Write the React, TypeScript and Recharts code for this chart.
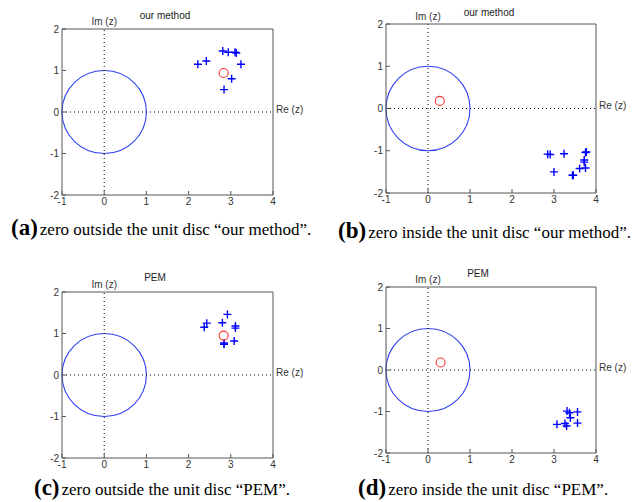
import React from 'react';
import {
  ScatterChart,
  Scatter,
  XAxis,
  YAxis,
  ReferenceLine,
  ReferenceArea,
} from 'recharts';

// pole / zero estimates
const polesA = [
  { x: 2.22, y: 1.15 }, { x: 2.42, y: 1.23 }, { x: 2.81, y: 1.47 },
  { x: 2.94, y: 1.44 }, { x: 3.1, y: 1.44 }, { x: 3.13, y: 1.42 },
  { x: 3.24, y: 1.15 }, { x: 3.02, y: 0.8 }, { x: 2.84, y: 0.54 },
];
const zeroA = [{ x: 2.83, y: 0.94 }];

const polesB = [
  { x: 2.85, y: -1.08 }, { x: 2.91, y: -1.09 }, { x: 3.24, y: -1.07 },
  { x: 3.75, y: -1.04 }, { x: 3.77, y: -1.03 }, { x: 3.72, y: -1.22 },
  { x: 3.72, y: -1.27 }, { x: 3.61, y: -1.42 }, { x: 3.75, y: -1.41 },
  { x: 3.0, y: -1.5 }, { x: 3.44, y: -1.58 }, { x: 3.46, y: -1.58 },
];
const zeroB = [{ x: 0.28, y: 0.18 }];

const polesC = [
  { x: 2.37, y: 1.15 }, { x: 2.43, y: 1.25 }, { x: 2.8, y: 1.26 },
  { x: 2.92, y: 1.46 }, { x: 3.11, y: 1.13 }, { x: 3.11, y: 1.18 },
  { x: 2.84, y: 0.77 }, { x: 2.84, y: 0.74 }, { x: 3.08, y: 0.82 },
];
const zeroC = [{ x: 2.83, y: 0.95 }];

const polesD = [
  { x: 3.31, y: -0.99 }, { x: 3.37, y: -1.03 }, { x: 3.56, y: -1.01 },
  { x: 3.39, y: -1.15 }, { x: 3.07, y: -1.31 }, { x: 3.26, y: -1.29 },
  { x: 3.3, y: -1.35 }, { x: 3.56, y: -1.28 },
];
const zeroD = [{ x: 0.3, y: 0.18 }];

const xTicks = [-1, 0, 1, 2, 3, 4];
const yTicks = [-2, -1, 0, 1, 2];

const AXIS_FONT = { fontSize: 10, fill: '#333', fontFamily: 'Liberation Sans, Arial, sans-serif' };
const BOX = '#555';

const Cross = (props: any) => {
  const { cx, cy } = props;
  if (cx == null || cy == null) return null;
  const s = 4;
  return (
    <path
      d={`M${cx - s},${cy}H${cx + s}M${cx},${cy - s}V${cy + s}`}
      stroke="#0000ff"
      strokeWidth={1.4}
      fill="none"
    />
  );
};

const Ring = (props: any) => {
  const { cx, cy } = props;
  if (cx == null || cy == null) return null;
  return <circle cx={cx} cy={cy} r={4.5} stroke="#ff3030" strokeWidth={1.1} fill="none" />;
};

const Nothing = () => <g />;

const UnitCircle = (props: any) => {
  const { x, y, width, height } = props;
  return (
    <ellipse
      cx={x + width / 2}
      cy={y + height / 2}
      rx={width / 2}
      ry={height / 2}
      stroke="#3040f0"
      strokeWidth={1.1}
      fill="none"
    />
  );
};

interface PanelProps {
  box: { x0: number; y0: number; x1: number; y1: number };
  poles: { x: number; y: number }[];
  zero: { x: number; y: number }[];
}

const ML = 45;
const MR = 45;
const MT = 28;
const MB = 25;

const Panel: React.FC<PanelProps> = ({ box, poles, zero }) => {
  const w = box.x1 - box.x0 + ML + MR;
  const h = box.y1 - box.y0 + MT + MB;
  return (
    <div style={{ position: 'absolute', left: box.x0 - ML, top: box.y0 - MT }}>
      <ScatterChart width={w} height={h} margin={{ top: MT - 1, right: MR - 1, bottom: 5, left: 5 }}>
        <XAxis
          type="number"
          dataKey="x"
          xAxisId="b"
          domain={[-1, 4]}
          ticks={xTicks}
          tick={AXIS_FONT}
          tickSize={-4}
          tickMargin={7}
          height={20}
          stroke={BOX}
          allowDataOverflow
        />
        <XAxis
          type="number"
          dataKey="x"
          xAxisId="t"
          orientation="top"
          domain={[-1, 4]}
          ticks={xTicks}
          tick={false}
          tickSize={-4}
          height={1}
          stroke={BOX}
          allowDataOverflow
        />
        <YAxis
          type="number"
          dataKey="y"
          yAxisId="l"
          domain={[-2, 2]}
          ticks={yTicks}
          tick={AXIS_FONT}
          tickSize={-4}
          tickMargin={7}
          width={40}
          stroke={BOX}
          allowDataOverflow
        />
        <YAxis
          type="number"
          dataKey="y"
          yAxisId="r"
          orientation="right"
          domain={[-2, 2]}
          ticks={yTicks}
          tick={false}
          tickSize={-4}
          width={1}
          stroke={BOX}
          allowDataOverflow
        />
        <ReferenceLine
          xAxisId="b"
          yAxisId="l"
          x={0}
          stroke="#000"
          strokeDasharray="1 3"
          label={{ value: 'Im (z)', position: 'top', offset: 4, ...AXIS_FONT }}
        />
        <ReferenceLine
          xAxisId="b"
          yAxisId="l"
          y={0}
          stroke="#000"
          strokeDasharray="1 3"
          label={{ value: 'Re (z)', position: 'right', offset: 3, dy: -3, ...AXIS_FONT }}
        />
        <ReferenceArea
          xAxisId="b"
          yAxisId="l"
          x1={-1}
          x2={1}
          y1={-1}
          y2={1}
          shape={UnitCircle}
        />
        {/* invisible series so the top and right box axes get drawn */}
        <Scatter xAxisId="t" yAxisId="r" data={poles} shape={Nothing} isAnimationActive={false} />
        <Scatter xAxisId="b" yAxisId="l" data={poles} shape={Cross} isAnimationActive={false} />
        <Scatter xAxisId="b" yAxisId="l" data={zero} shape={Ring} isAnimationActive={false} />
      </ScatterChart>
    </div>
  );
};

const titleStyle = (cx: number, cy: number): React.CSSProperties => ({
  position: 'absolute',
  left: cx - 60,
  top: cy - 6,
  width: 120,
  textAlign: 'center',
  fontFamily: 'Liberation Sans, Arial, sans-serif',
  fontSize: 10,
  lineHeight: '12px',
  color: '#222',
});

const Caption: React.FC<{ x: number; y: number; tag: string; text: string }> = ({ x, y, tag, text }) => (
  <div
    style={{
      position: 'absolute',
      left: x,
      top: y,
      whiteSpace: 'nowrap',
      fontFamily: 'Liberation Serif, Times New Roman, serif',
      color: '#000',
      lineHeight: '24px',
    }}
  >
    <span style={{ fontSize: 23, fontWeight: 'bold' }}>{tag}</span>
    <span style={{ fontSize: 17, marginLeft: 2 }}>{text}</span>
  </div>
);

export default function App() {
  return (
    <div style={{ position: 'absolute', left: 0, top: 0, width: 638, height: 502, background: '#fff', overflow: 'hidden' }}>
      <Panel box={{ x0: 62, y0: 29, x1: 273, y1: 195 }} poles={polesA} zero={zeroA} />
      <Panel box={{ x0: 386, y0: 24, x1: 596, y1: 193 }} poles={polesB} zero={zeroB} />
      <Panel box={{ x0: 62, y0: 292, x1: 273, y1: 458 }} poles={polesC} zero={zeroC} />
      <Panel box={{ x0: 386, y0: 287, x1: 596, y1: 453 }} poles={polesD} zero={zeroD} />

      <div style={titleStyle(165, 16)}>our method</div>
      <div style={titleStyle(489, 13)}>our method</div>
      <div style={titleStyle(155, 278)}>PEM</div>
      <div style={titleStyle(478, 274)}>PEM</div>

      <Caption x={11} y={216} tag="(a)" text={'zero outside the unit disc \u201cour method\u201d.'} />
      <Caption x={338} y={219} tag="(b)" text={'zero inside the unit disc \u201cour method\u201d.'} />
      <Caption x={34} y={476} tag="(c)" text={'zero outside the unit disc \u201cPEM\u201d.'} />
      <Caption x={358} y={476} tag="(d)" text={'zero inside the unit disc \u201cPEM\u201d.'} />
    </div>
  );
}
